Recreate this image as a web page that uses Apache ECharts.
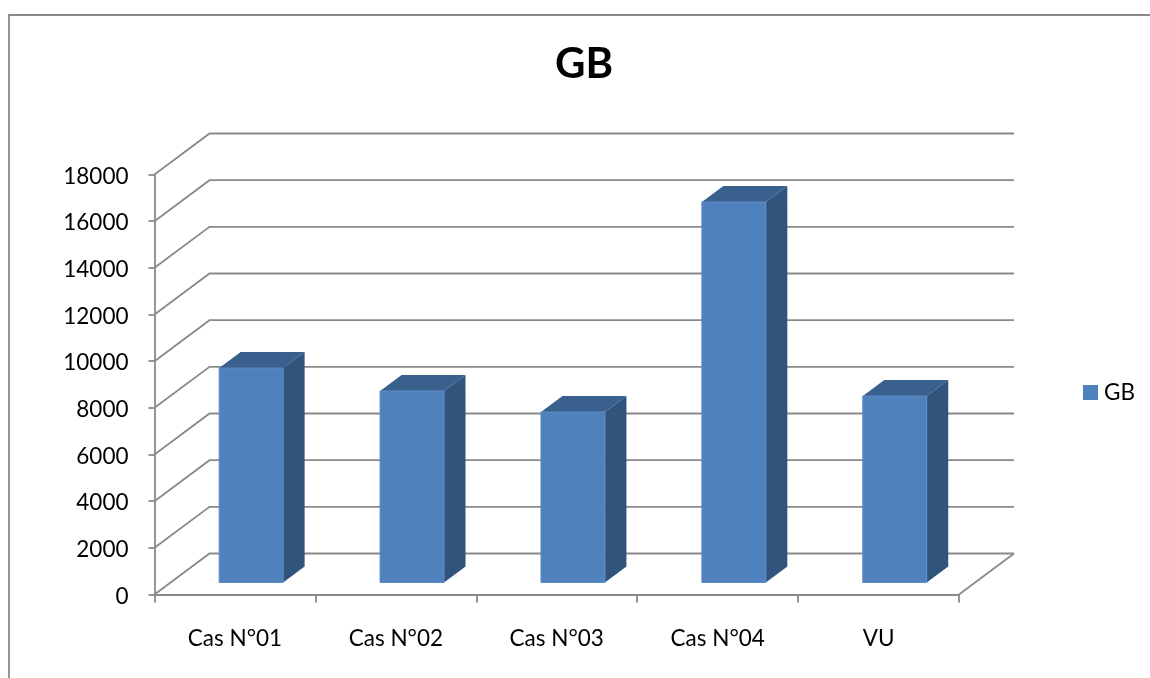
<!DOCTYPE html>
<html>
<head>
<meta charset="utf-8">
<style>html,body{margin:0;padding:0;background:#fff}#chart{width:1150px;height:678px}</style>
<script src="https://cdn.jsdelivr.net/npm/echarts@6/dist/echarts.min.js"></script>
</head>
<body>
<div id="chart"></div>
<script>
// Blood-count values per case
const categories = ['Cas N°01', 'Cas N°02', 'Cas N°03', 'Cas N°04', 'VU'];
const gbValues = [9190, 8210, 7310, 16310, 7990];
const yTicks = [0, 2000, 4000, 6000, 8000, 10000, 12000, 14000, 16000, 18000];

// Oblique projection used for the pseudo-3D box
const WALL_DX = 55, WALL_DY = -41;   // depth of the chart floor
const BAR_DX = 21.5, BAR_DY = -16;   // depth of each column
const BAR_SHIFT_X = 16.2, BAR_SHIFT_Y = -12; // column offset from the front edge
const BAR_RATIO = 64 / 161;

const GRID = '#8a8a8a';
const FONT = 'Lato, "Open Sans", sans-serif';

// Back wall, side wall and floor rules for one tick value
function renderWall(params, api) {
  const v = api.value(1);
  const last = categories.length - 1;
  const halfBand = api.size([1, 0])[0] / 2;
  const left = api.coord([0, v])[0] - halfBand;
  const right = api.coord([last, v])[0] + halfBand;
  const y = api.coord([0, v])[1];
  const children = [{
    type: 'polyline',
    shape: { points: [[left, y], [left + WALL_DX, y + WALL_DY], [right + WALL_DX, y + WALL_DY]] },
    style: { fill: 'none', stroke: GRID, lineWidth: 1.8 }
  }];
  if (v === 0) {
    children.push({
      type: 'line',
      shape: { x1: right, y1: y, x2: right + WALL_DX, y2: y + WALL_DY },
      style: { stroke: GRID, lineWidth: 1.8 }
    });
  }
  return { type: 'group', children };
}

// One column: front face, top face and right-hand face
function renderBar(params, api) {
  const i = api.value(0);
  const base = api.coord([i, 0]);
  const top = api.coord([i, api.value(1)]);
  const w = api.size([1, 0])[0] * BAR_RATIO;
  const x0 = base[0] - w / 2 + BAR_SHIFT_X;
  const x1 = x0 + w;
  const yb = base[1] + BAR_SHIFT_Y;
  const yt = top[1] + BAR_SHIFT_Y;
  return {
    type: 'group',
    children: [
      { type: 'polygon',
        shape: { points: [[x0, yt], [x0 + BAR_DX, yt + BAR_DY], [x1 + BAR_DX, yt + BAR_DY], [x1, yt]] },
        style: { fill: '#3A608E' } },
      { type: 'polygon',
        shape: { points: [[x1, yt], [x1 + BAR_DX, yt + BAR_DY], [x1 + BAR_DX, yb + BAR_DY], [x1, yb]] },
        style: { fill: '#31547C' } },
      { type: 'rect',
        shape: { x: x0, y: yt, width: w, height: yb - yt },
        style: { fill: '#4F81BD', stroke: '#5F8DC6', lineWidth: 1 } }
    ]
  };
}

const chart = echarts.init(document.getElementById('chart'), null, { renderer: 'canvas' });
chart.setOption({
  animation: false,
  backgroundColor: '#fff',
  title: {
    text: 'GB',
    left: 584,
    top: 43,
    padding: 0,
    textAlign: 'center',
    textStyle: { fontFamily: FONT, fontSize: 42, fontWeight: 'bold', color: '#000' }
  },
  legend: {
    data: ['GB'],
    left: 1083,
    top: 381,
    padding: 0,
    itemWidth: 15,
    itemHeight: 15,
    icon: 'rect',
    textStyle: { fontFamily: FONT, fontSize: 22.5, color: '#000', padding: [0, 0, 0, 1] }
  },
  grid: { left: 154.5, right: 191, top: 174.5, bottom: 83.5 },
  xAxis: {
    type: 'category',
    data: categories,
    axisLine: { lineStyle: { color: GRID, width: 1.8 } },
    axisTick: { show: true, alignWithLabel: false, length: 8, lineStyle: { color: GRID, width: 1.8 } },
    axisLabel: { fontFamily: FONT, fontSize: 22.5, color: '#000', margin: 33 },
    splitLine: { show: false }
  },
  yAxis: {
    type: 'value',
    min: 0,
    max: 18000,
    interval: 2000,
    axisLine: { show: true, lineStyle: { color: GRID, width: 1.8 } },
    axisTick: { show: true, length: 6, lineStyle: { color: GRID, width: 1.8 } },
    axisLabel: {
      margin: 26,
      formatter: v => `{n|${v}}`,
      rich: { n: { fontFamily: FONT, fontSize: 22.5, color: '#000', padding: [4, 0, 0, 0] } }
    },
    splitLine: { show: false }
  },
  graphic: [{
    type: 'polyline',
    silent: true,
    shape: { points: [[9, 678], [9, 15], [1150, 15]] },
    style: { fill: 'none', stroke: GRID, lineWidth: 1.8 }
  }],
  series: [
    {
      name: 'walls',
      type: 'custom',
      renderItem: renderWall,
      data: yTicks.map(v => [0, v]),
      encode: { x: 0, y: 1 },
      clip: false,
      silent: true,
      z: 1
    },
    {
      name: 'GB',
      type: 'custom',
      renderItem: renderBar,
      data: gbValues.map((v, i) => [i, v]),
      encode: { x: 0, y: 1 },
      itemStyle: { color: '#4F81BD' },
      clip: false,
      z: 3
    }
  ]
});
</script>
</body>
</html>
